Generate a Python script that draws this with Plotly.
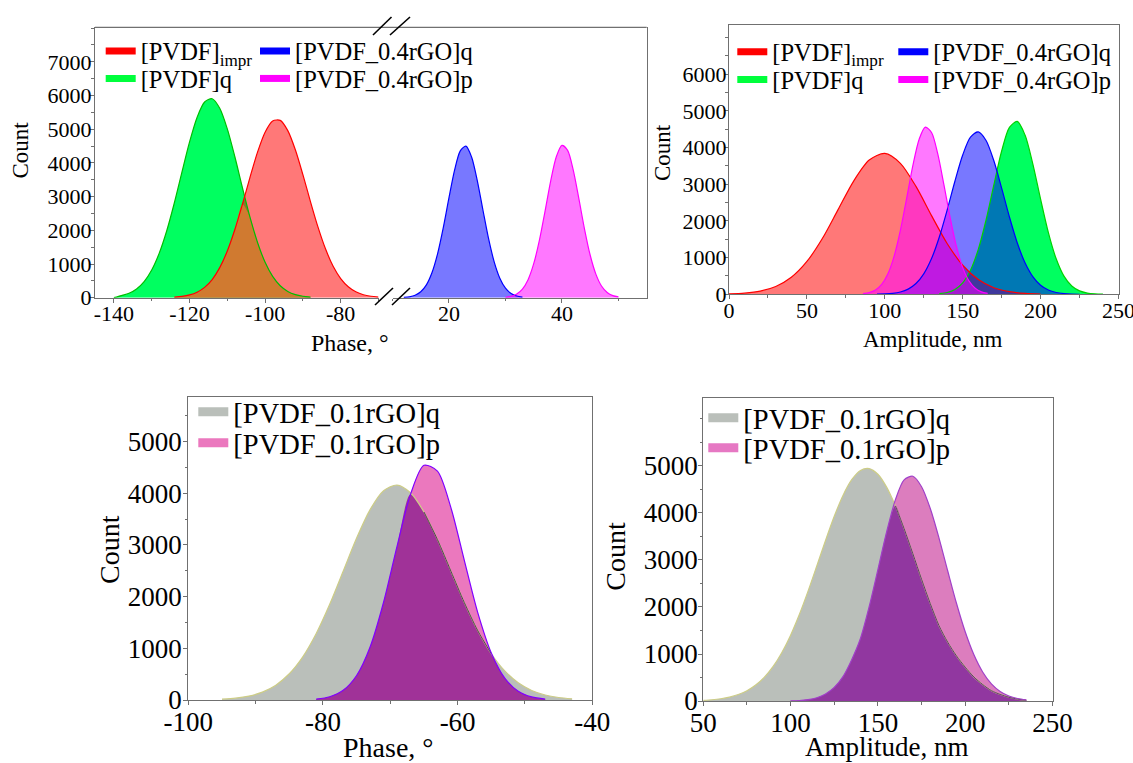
import plotly.graph_objects as go

W, H = 1133, 763
FONT = "Liberation Serif"

# ---------------- data ----------------
# Top-left panel: phase distribution, broken x axis
tl_pvdf_q_x = [-140, -138, -136, -134, -132, -130, -128, -126, -124, -122, -120, -118, -116, -114,
               -112, -110, -108, -106, -104, -102, -100, -98, -96, -94, -92, -90, -88]
tl_pvdf_q_y = [0, 63, 132, 260, 478, 822, 1323, 1995, 2818, 3727, 4615, 5350, 5809, 5905,
               5621, 5010, 4182, 3267, 2391, 1639, 1051, 632, 355, 187, 92, 43, 18]
tl_pvdf_impr_x = [-124, -122, -120, -118, -116, -114, -112, -110, -108, -106, -104, -102, -100, -98,
                  -96, -94, -92, -90, -88, -86, -84, -82, -80, -78, -76, -74, -72, -70]
tl_pvdf_impr_y = [17, 39, 82, 163, 306, 539, 892, 1385, 2022, 2772, 3571, 4320, 4911, 5244,
                  5261, 4957, 4389, 3650, 2851, 2093, 1443, 934, 569, 325, 175, 88, 42, 19]
tl_rgo04_q_x = [12, 13, 14, 15, 16, 17, 18, 19, 20, 21, 22, 23, 24, 25, 26, 27, 28, 29, 30, 31, 32, 33]
tl_rgo04_q_y = [8, 27, 72, 175, 382, 748, 1317, 2086, 2967, 3793, 4359, 4500, 4176, 3483, 2610,
                1758, 1064, 579, 283, 124, 49, 17]
tl_rgo04_p_x = [30, 31, 32, 33, 34, 35, 36, 37, 38, 39, 40, 41, 42, 43, 44, 45, 46, 47, 48, 49, 50]
tl_rgo04_p_y = [14, 41, 108, 254, 535, 1009, 1700, 2564, 3462, 4182, 4520, 4371, 3784, 2930, 2031,
                1259, 699, 347, 154, 61, 22]

# Top-right panel: amplitude distribution
tr_pvdf_impr_x = [0, 10, 20, 30, 40, 50, 60, 70, 80, 90, 100, 110, 120, 130, 140, 150, 160, 170, 180, 190, 200]
tr_pvdf_impr_y = [10, 31, 87, 213, 464, 895, 1526, 2307, 3086, 3658, 3840, 3570, 2940, 2144, 1385,
                  792, 402, 180, 72, 25, 8]
tr_rgo04_p_x = [86, 90, 94, 98, 102, 106, 110, 114, 118, 122, 126, 130, 134, 138, 142, 146, 150,
                154, 158, 162, 166]
tr_rgo04_p_y = [16, 45, 116, 269, 559, 1042, 1742, 2610, 3506, 4221, 4557, 4410, 3826, 2975, 2075,
                1297, 727, 365, 164, 66, 24]
tr_rgo04_q_x = [95, 100, 105, 110, 115, 120, 125, 130, 135, 140, 145, 150, 155, 160, 165, 170, 175,
                180, 185, 190, 195, 200, 205, 210, 215, 220, 225]
tr_rgo04_q_y = [3, 9, 25, 62, 141, 293, 558, 975, 1562, 2292, 3082, 3796, 4282, 4427, 4193, 3639,
                2893, 2107, 1406, 859, 482, 247, 116, 50, 20, 7, 2]
tr_pvdf_q_x = [135, 140, 145, 150, 155, 160, 165, 170, 175, 180, 185, 190, 195, 200, 205, 210, 215,
               220, 225, 230, 235, 240]
tr_pvdf_q_y = [17, 50, 133, 314, 657, 1223, 2025, 2981, 3905, 4548, 4711, 4340, 3556, 2591, 1679,
               967, 495, 226, 92, 33, 11, 3]

# Bottom-left panel: phase, 0.1 rGO
bl_q_x = [-95, -93, -91, -89, -87, -85, -83, -81, -79, -77, -75, -73, -71, -69, -67, -65, -63, -61,
          -59, -57, -55, -53, -51, -49, -47, -45, -43]
bl_q_y = [15, 35, 76, 153, 287, 507, 835, 1286, 1850, 2490, 3132, 3682, 4047, 4158, 4008, 3636,
          3103, 2492, 1882, 1338, 895, 563, 333, 185, 97, 48, 22]
bl_p_x = [-81, -79, -77, -75, -73, -71, -69, -67, -65, -63, -61, -59, -57, -55, -53, -51, -49, -47]
bl_p_y = [18, 63, 187, 474, 1025, 1891, 2971, 3978, 4540, 4426, 3720, 2697, 1686, 910, 423, 170, 59, 18]

# Bottom-right panel: amplitude, 0.1 rGO
br_q_x = [50, 55, 60, 65, 70, 75, 80, 85, 90, 95, 100, 105, 110, 115, 120, 125, 130, 135, 140, 145,
          150, 155, 160, 165, 170, 175, 180, 185, 190, 195, 200, 205, 210, 215, 220, 225, 230, 235]
br_q_y = [15, 27, 48, 82, 137, 219, 339, 507, 735, 1032, 1401, 1840, 2337, 2872, 3415, 3929, 4374,
          4709, 4906, 4945, 4823, 4550, 4153, 3668, 3135, 2591, 2072, 1603, 1250, 960, 720, 510, 350,
          220, 140, 80, 40, 15]
br_p_x = [100, 105, 110, 115, 120, 125, 130, 135, 140, 145, 150, 155, 160, 165, 170, 175, 180, 185,
          190, 195, 200, 205, 210, 215, 220, 225, 230, 235]
br_p_y = [3, 8, 30, 70, 150, 290, 520, 880, 1331, 2005, 2793, 3596, 4278, 4703, 4781, 4559, 4096,
          3467, 2766, 2079, 1472, 982, 618, 366, 204, 107, 53, 25]

# tick labels
tl_xticks_left = [-140, -120, -100, -80]
tl_xticklabels_left = ["-140", "-120", "-100", "-80"]
tl_xticks_right = [20, 40]
tl_xticklabels_right = ["20", "40"]
tl_yticks = [0, 1000, 2000, 3000, 4000, 5000, 6000, 7000]
tr_xticks = [0, 50, 100, 150, 200, 250]
tr_yticks = [0, 1000, 2000, 3000, 4000, 5000, 6000]
bl_xticks = [-100, -80, -60, -40]
bl_xticklabels = ["-100", "-80", "-60", "-40"]
b_yticks = [0, 1000, 2000, 3000, 4000, 5000]
br_xticks = [50, 100, 150, 200, 250]

# ---------------- helpers ----------------
def fx(p):
    return p / W


def fy(p):
    return 1 - p / H


fig = go.Figure()


def area(x, y, fillcolor, xa, ya):
    fig.add_trace(go.Scatter(x=x, y=y, mode="lines", fill="tozeroy", fillcolor=fillcolor,
                             line=dict(width=0, shape="spline", smoothing=0.8),
                             xaxis=xa, yaxis=ya, showlegend=False, hoverinfo="skip"))


def edge(x, y, color, xa, ya, width=1.2):
    fig.add_trace(go.Scatter(x=x, y=y, mode="lines",
                             line=dict(color=color, width=width, shape="spline", smoothing=0.8),
                             xaxis=xa, yaxis=ya, showlegend=False, hoverinfo="skip"))


def overlap(ax, ay, bx, by):
    bm = dict(zip(bx, by))
    xs = [v for v in ax if v in bm]
    ys = [min(a, bm[v]) for v, a in zip(ax, ay) if v in bm]
    return xs, ys


def inside(ax, ay, bx, by):
    # part of curve a that lies below curve b (edge seen through b's fill)
    bm = dict(zip(bx, by))
    xs = [v for v in ax if v in bm]
    ys = [a if a <= bm[v] else None for v, a in zip(ax, ay) if v in bm]
    return xs, ys


def legend_entry(name, color, width, key, xa, ya):
    fig.add_trace(go.Scatter(x=[None], y=[None], mode="lines", line=dict(color=color, width=width),
                             name=name, legend=key, xaxis=xa, yaxis=ya, showlegend=True))


# ---------------- top-left ----------------
GREEN = "rgb(0,255,96)"
area(tl_pvdf_q_x, tl_pvdf_q_y, GREEN, "x", "y")
area(tl_pvdf_impr_x, tl_pvdf_impr_y, "rgba(255,0,0,0.53)", "x", "y")
ox, oy = overlap(tl_pvdf_q_x, tl_pvdf_q_y, tl_pvdf_impr_x, tl_pvdf_impr_y)
area(ox, oy, "rgb(208,122,48)", "x", "y")
edge(tl_pvdf_q_x, tl_pvdf_q_y, "rgb(0,190,0)", "x", "y")
edge(tl_pvdf_impr_x, tl_pvdf_impr_y, "rgb(255,0,0)", "x", "y")
area(tl_rgo04_q_x, tl_rgo04_q_y, "rgba(0,0,255,0.53)", "x2", "y2")
area(tl_rgo04_p_x, tl_rgo04_p_y, "rgba(255,0,255,0.53)", "x2", "y2")
edge(tl_rgo04_q_x, tl_rgo04_q_y, "rgb(0,0,255)", "x2", "y2")
edge(tl_rgo04_p_x, tl_rgo04_p_y, "rgb(255,0,255)", "x2", "y2")

# ---------------- top-right ----------------
area(tr_pvdf_q_x, tr_pvdf_q_y, GREEN, "x3", "y3")
area(tr_pvdf_impr_x, tr_pvdf_impr_y, "rgba(255,0,0,0.53)", "x3", "y3")
area(tr_rgo04_q_x, tr_rgo04_q_y, "rgba(0,0,255,0.53)", "x3", "y3")
area(tr_rgo04_p_x, tr_rgo04_p_y, "rgba(255,0,255,0.53)", "x3", "y3")
edge(tr_pvdf_q_x, tr_pvdf_q_y, "rgb(0,210,0)", "x3", "y3")
edge(tr_pvdf_impr_x, tr_pvdf_impr_y, "rgb(255,0,0)", "x3", "y3")
edge(tr_rgo04_q_x, tr_rgo04_q_y, "rgb(0,0,255)", "x3", "y3")
edge(tr_rgo04_p_x, tr_rgo04_p_y, "rgb(255,0,255)", "x3", "y3")

# ---------------- bottom-left ----------------
GREY = "rgb(186,191,186)"
area(bl_q_x, bl_q_y, GREY, "x4", "y4")
area(bl_p_x, bl_p_y, "rgb(235,120,190)", "x4", "y4")
ox, oy = overlap(bl_q_x, bl_q_y, bl_p_x, bl_p_y)
area(ox, oy, "rgb(160,50,152)", "x4", "y4")
edge(bl_q_x, bl_q_y, "rgb(205,205,135)", "x4", "y4")
ix, iy = inside(bl_q_x, bl_q_y, bl_p_x, bl_p_y)
edge(ix, iy, "rgb(80,70,80)", "x4", "y4", 1.0)
edge(bl_p_x, bl_p_y, "rgb(128,0,255)", "x4", "y4")

# ---------------- bottom-right ----------------
area(br_q_x, br_q_y, GREY, "x5", "y5")
area(br_p_x, br_p_y, "rgb(220,125,190)", "x5", "y5")
ox, oy = overlap(br_q_x, br_q_y, br_p_x, br_p_y)
area(ox, oy, "rgb(145,55,160)", "x5", "y5")
edge(br_q_x, br_q_y, "rgb(205,205,135)", "x5", "y5")
ix, iy = inside(br_q_x, br_q_y, br_p_x, br_p_y)
edge(ix, iy, "rgb(95,60,105)", "x5", "y5", 1.0)
edge(br_p_x, br_p_y, "rgb(160,64,200)", "x5", "y5")

# ---------------- legends ----------------
legend_entry("[PVDF]<sub>impr</sub>", "rgb(255,0,0)", 7, "legend", "x", "y")
legend_entry("[PVDF]q", "rgb(0,255,60)", 7, "legend2", "x", "y")
legend_entry("[PVDF_0.4rGO]q", "rgb(0,0,255)", 7, "legend3", "x", "y")
legend_entry("[PVDF_0.4rGO]p", "rgb(255,0,255)", 7, "legend4", "x", "y")
legend_entry("[PVDF]<sub>impr</sub>", "rgb(255,0,0)", 7, "legend5", "x3", "y3")
legend_entry("[PVDF]q", "rgb(0,255,60)", 7, "legend6", "x3", "y3")
legend_entry("[PVDF_0.4rGO]q", "rgb(0,0,255)", 7, "legend7", "x3", "y3")
legend_entry("[PVDF_0.4rGO]p", "rgb(255,0,255)", 7, "legend8", "x3", "y3")
legend_entry("[PVDF_0.1rGO]q", GREY, 9, "legend9", "x4", "y4")
legend_entry("[PVDF_0.1rGO]p", "rgb(235,120,190)", 9, "legend10", "x4", "y4")
legend_entry("[PVDF_0.1rGO]q", GREY, 9, "legend11", "x5", "y5")
legend_entry("[PVDF_0.1rGO]p", "rgb(230,120,195)", 9, "legend12", "x5", "y5")

LEG_OFF = 6  # px between legend box edge and line start


def leg(line_x, row_y, size):
    return dict(x=fx(line_x - LEG_OFF), y=fy(row_y), xanchor="left", yanchor="middle",
                bgcolor="rgba(0,0,0,0)", borderwidth=0,
                font=dict(family=FONT, size=size, color="black"))


LT, LB = 24.5, 28.5
legend_pos = {
    "legend": leg(106.7, 51, LT), "legend2": leg(106.7, 78.5, LT),
    "legend3": leg(261, 51, LT), "legend4": leg(261, 78.5, LT),
    "legend5": leg(738.3, 51.7, LT), "legend6": leg(738.3, 79.5, LT),
    "legend7": leg(899.3, 51.7, LT), "legend8": leg(899.3, 79.5, LT),
    "legend9": leg(199.3, 412.3, LB), "legend10": leg(199.3, 443.3, LB),
    "legend11": leg(709.3, 418.3, LB), "legend12": leg(709.3, 448.3, LB),
}

# ---------------- axes ----------------
LC = "#707070"


def axis(size, standoff, **kw):
    d = dict(showline=True, linecolor=LC, linewidth=1.3, ticks="outside", tickcolor=LC,
             ticklen=4, tickwidth=1, showgrid=False, zeroline=False, automargin=False,
             ticklabelstandoff=standoff, ticklabeloverflow="allow",
             tickfont=dict(family=FONT, size=size, color="black"))
    d.update(kw)
    return d


def minor(dtick, tick0=0):
    return dict(tickmode="linear", dtick=dtick, tick0=tick0, ticks="outside", ticklen=2.5, tickcolor=LC)


TL = (95, 378.5, 392.5, 646.7, 27.3, 297.7)
TR = (729, 1118.5, 25, 294.3)
BL = (188.3, 592.3, 397.3, 700)
BR = (703.3, 1052.5, 398.3, 701)

layout = dict(
    width=W, height=H, margin=dict(l=0, r=0, t=0, b=0, autoexpand=False),
    plot_bgcolor="white", paper_bgcolor="white",
    font=dict(family=FONT, color="black"),
    xaxis=axis(22, -8, domain=[fx(TL[0]), fx(TL[1])], range=[-145, -70], anchor="y",
               tickmode="array", tickvals=tl_xticks_left, ticktext=tl_xticklabels_left, minor=minor(10)),
    xaxis2=axis(22, -8, domain=[fx(TL[2]), fx(TL[3])], range=[10, 55], anchor="y2",
                tickmode="array", tickvals=tl_xticks_right, ticktext=tl_xticklabels_right, minor=minor(10)),
    yaxis=axis(22, -6, domain=[fy(TL[5]), fy(TL[4])], range=[0, 8024], anchor="x",
               tickmode="array", tickvals=tl_yticks, minor=minor(500)),
    yaxis2=dict(domain=[fy(TL[5]), fy(TL[4])], range=[0, 8024], anchor="x2", side="right",
                showline=True, linecolor=LC, linewidth=1.3, ticks="", showticklabels=False,
                showgrid=False, zeroline=False, automargin=False),
    xaxis3=axis(22, -8, domain=[fx(TR[0]), fx(TR[1])], range=[0, 250], anchor="y3", mirror=True,
                tickmode="array", tickvals=tr_xticks, minor=minor(25)),
    yaxis3=axis(22, -7, domain=[fy(TR[3]), fy(TR[2])], range=[0, 7340], anchor="x3", mirror=True,
                tickmode="array", tickvals=tr_yticks, minor=minor(500)),
    xaxis4=axis(27, -7, domain=[fx(BL[0]), fx(BL[1])], range=[-100, -40], anchor="y4", mirror=True,
                tickmode="array", tickvals=bl_xticks, ticktext=bl_xticklabels, minor=minor(10)),
    yaxis4=axis(27, -4, domain=[fy(BL[3]), fy(BL[2])], range=[0, 5855], anchor="x4", mirror=True,
                tickmode="array", tickvals=b_yticks, minor=minor(500)),
    xaxis5=axis(27, -7, domain=[fx(BR[0]), fx(BR[1])], range=[50, 250], anchor="y5", mirror=True,
                tickmode="array", tickvals=br_xticks, minor=minor(25)),
    yaxis5=axis(27, -5, domain=[fy(BR[3]), fy(BR[2])], range=[0, 6440], anchor="x5", mirror=True,
                tickmode="array", tickvals=b_yticks, minor=minor(500)),
)
layout.update(legend_pos)
fig.update_layout(**layout)


def title(text, cx, cy, size, angle=0):
    fig.add_annotation(text=text, x=fx(cx), y=fy(cy), xref="paper", yref="paper",
                       xanchor="center", yanchor="middle", showarrow=False, textangle=angle,
                       font=dict(family=FONT, size=size, color="black"))


title("Count", 19.5, 150, 23, -90)
title("Phase, °", 350, 343, 24)
title("Count", 662, 153, 23, -90)
title("Amplitude, nm", 932, 339, 23)
title("Count", 109, 550, 28, -90)
title("Phase, °", 389, 747, 28)
title("Count", 616, 556.7, 28, -90)
title("Amplitude, nm", 887, 747, 27)


def pline(x0, y0, x1, y1, color, width):
    fig.add_shape(type="line", xref="paper", yref="paper", x0=fx(x0), y0=fy(y0), x1=fx(x1), y1=fy(y1),
                  line=dict(color=color, width=width))


# continuous top border of the broken-axis panel
pline(TL[0], TL[4], TL[3], TL[4], LC, 1.3)
# break marks
for (ax0, ay0, ax1, ay1) in [(375, 305, 393, 288), (392, 305, 410, 288),
                             (373, 35, 391.5, 17), (390, 35, 410, 17)]:
    pline(ax0, ay0, ax1, ay1, "black", 1.6)

fig.write_html("out.html")
